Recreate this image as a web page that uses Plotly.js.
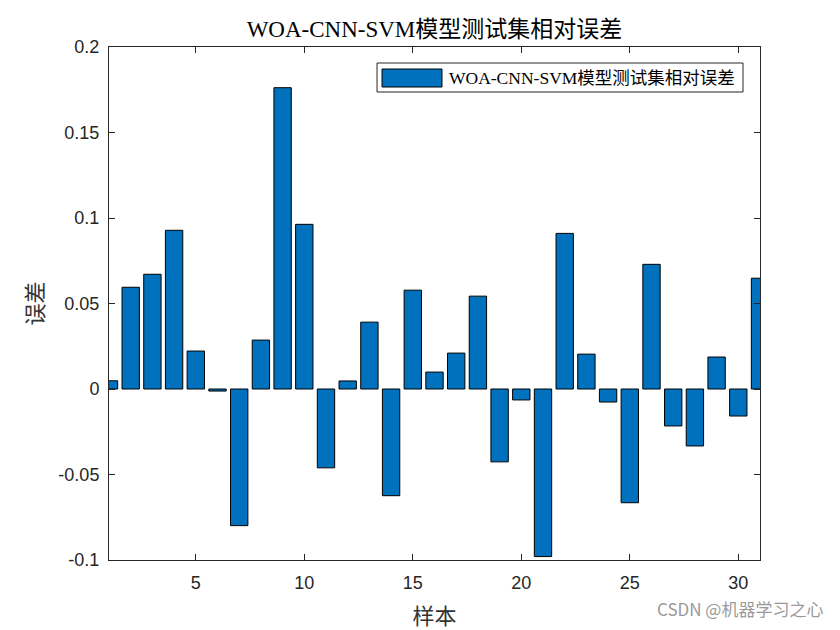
<!DOCTYPE html>
<html>
<head>
<meta charset="utf-8">
<script src="https://cdn.plot.ly/plotly-3.0.1.min.js"></script>
<style>html,body{margin:0;padding:0;background:#fff;}#chart{width:840px;height:630px;}</style>
</head>
<body>
<div id="chart"></div>
<script>
var seriesName = 'WOA-CNN-SVM模型测试集相对误差';
var chartTitle = 'WOA-CNN-SVM模型测试集相对误差';
var xTitle = '样本';
var yTitle = '误差';
var samples = [1,2,3,4,5,6,7,8,9,10,11,12,13,14,15,16,17,18,19,20,21,22,23,24,25,26,27,28,29,30,31];
var errors = [0.0048,0.0595,0.0671,0.0928,0.0222,-0.0012,-0.0799,0.0286,0.1762,0.0963,-0.0461,0.0047,0.0391,-0.0624,0.0578,0.0099,0.0210,0.0543,-0.0426,-0.0064,-0.0980,0.0910,0.0204,-0.0076,-0.0665,0.0729,-0.0216,-0.0333,0.0187,-0.0158,0.0648];
var xTickVals = [5,10,15,20,25,30];
var xTickText = ['5','10','15','20','25','30'];
var yTickVals = [-0.1,-0.05,0,0.05,0.1,0.15,0.2];
var yTickText = ['-0.1','-0.05','0','0.05','0.1','0.15','0.2'];
var watermark = 'CSDN @机器学习之心';

var barColor = '#0072BD';
var serif = 'Liberation Serif, "Times New Roman", "Noto Sans CJK SC", serif';
var sans = 'Liberation Sans, Arial, "Noto Sans CJK SC", sans-serif';
var cjk = '"Noto Sans CJK SC", sans-serif';

var trace = {
  type: 'bar',
  x: samples,
  y: errors,
  width: 0.8,
  name: seriesName,
  marker: {color: barColor, line: {color: '#000000', width: 1}},
  showlegend: false,
  hoverinfo: 'x+y'
};

var layout = {
  width: 840, height: 630,
  paper_bgcolor: '#ffffff', plot_bgcolor: '#ffffff',
  margin: {l: 109, r: 80, t: 47, b: 70, pad: 0},
  title: {text: chartTitle, font: {family: serif, size: 23, color: '#000000'}, x: 0.5, xref: 'paper', xanchor: 'center', y: 1 - 29/630, yref: 'container', yanchor: 'middle'},
  xaxis: {
    range: [1, 31], tickmode: 'array', tickvals: xTickVals, ticktext: xTickText,
    ticks: 'inside', ticklen: 6, tickwidth: 1, tickcolor: '#262626',
    showline: true, linecolor: '#262626', linewidth: 1, mirror: 'ticks',
    showgrid: false, zeroline: false, ticklabelstandoff: 6,
    tickfont: {family: sans, size: 18, color: '#262626'},
    title: {text: xTitle, font: {family: cjk, size: 22, color: '#333333'}, standoff: 18}
  },
  yaxis: {
    range: [-0.1, 0.2], tickmode: 'array', tickvals: yTickVals, ticktext: yTickText,
    ticks: 'inside', ticklen: 6, tickwidth: 1, tickcolor: '#262626',
    showline: true, linecolor: '#262626', linewidth: 1, mirror: 'ticks',
    showgrid: false, zeroline: false, ticklabelstandoff: 5,
    tickfont: {family: sans, size: 18, color: '#262626'},
    title: {text: yTitle, font: {family: cjk, size: 22, color: '#333333'}, standoff: 8}
  },
  shapes: [
    {type: 'rect', xref: 'paper', yref: 'paper', x0: 0.4117, x1: 0.9739, y0: 0.9123, y1: 0.9688, line: {color: '#262626', width: 1}, fillcolor: '#ffffff'},
    {type: 'rect', xref: 'paper', yref: 'paper', x0: 0.4194, x1: 0.5115, y0: 0.9220, y1: 0.9571, line: {color: '#000000', width: 1}, fillcolor: barColor}
  ],
  annotations: [
    {text: seriesName, xref: 'paper', yref: 'paper', x: 0.5192, y: 0.9396, xanchor: 'left', yanchor: 'middle', showarrow: false, font: {family: serif, size: 17.5, color: '#000000'}},
    {text: watermark, xref: 'paper', yref: 'paper', x: 1.1, y: -0.095, xanchor: 'right', yanchor: 'middle', showarrow: false, font: {family: cjk, size: 17, color: '#9a9a9a'}}
  ],
  showlegend: false
};

Plotly.newPlot('chart', [trace], layout, {displayModeBar: false, staticPlot: true});
</script>
</body>
</html>
